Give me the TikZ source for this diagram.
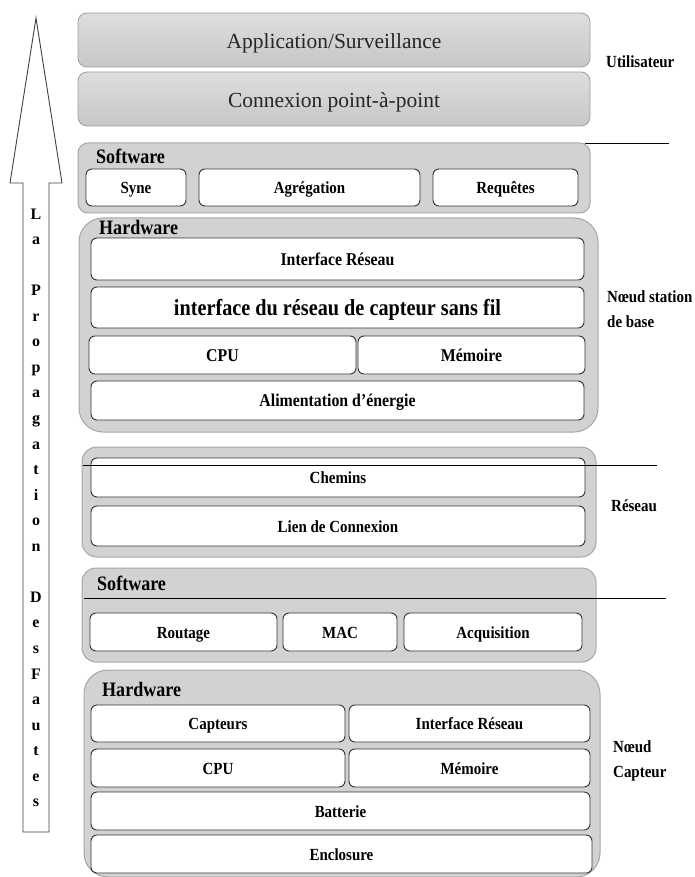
\documentclass[tikz,border=0pt]{standalone}
\usepackage{fontspec}
\setmainfont{Liberation Serif}
\newfontfamily\cbf{Liberation Serif}[FakeStretch=0.88]
\begin{document}
\begin{tikzpicture}[x=1pt,y=-1pt,
  top/.style={draw=gray!75, top color=gray!26, bottom color=gray!44, rounded corners=9pt, line width=0.8pt, font=\fontsize{21.5}{24}\selectfont, text=black!85, inner sep=0pt, text height=21pt, text depth=4pt},
  grp/.style={draw=gray!70, fill=gray!35, line width=1pt, inner sep=0pt},
  box/.style={draw=black!80, fill=white, rounded corners=6pt, line width=0.9pt, font=\fontsize{17}{20}\selectfont\cbf\bfseries, inner sep=0pt, text height=15pt, text depth=3pt},
  bigbox/.style={box, font=\fontsize{18}{20}\selectfont\cbf\bfseries},
  grptitle/.style={anchor=west, font=\fontsize{20.5}{22}\selectfont\cbf\bfseries, inner sep=0pt},
  side/.style={anchor=west, align=left, font=\fontsize{17}{25}\selectfont\cbf\bfseries, inner sep=0pt},
  sepline/.style={draw=black, line width=0.8pt},
  letter/.style={anchor=base, font=\fontsize{16}{18}\selectfont\bfseries, inner sep=0pt}
]
\useasboundingbox (0,0) rectangle (694,877);

% big arrow
\draw[line width=0.9pt, draw=black!75, fill=white]
  (36,18) -- (62,183) -- (49,183) -- (49,832) -- (23,832) -- (23,183) -- (10,183) -- cycle;
\foreach \c/\i in {L/0,a/1,P/3,r/4,o/5,p/6,a/7,g/8,a/9,t/10,i/11,o/12,n/13,D/15,e/16,s/17,F/18,a/19,u/20,t/21,e/22,s/23}
  \node[letter] (let\i) at (36,{219+25.56*\i}) {\c};

% top boxes
\node[top, minimum width=512pt, minimum height=54pt] (app) at (334,40) {Application/Surveillance};
\node[top, minimum width=512pt, minimum height=54pt] (conn) at (334,99) {Connexion point-à-point};

% groups
\node[grp, rounded corners=10pt, minimum width=512pt, minimum height=70pt] (sw1) at (334,178) {};
\node[grp, rounded corners=24pt, minimum width=519pt, minimum height=214pt] (hw1) at (338.5,325) {};
\node[grp, rounded corners=15pt, minimum width=514pt, minimum height=110pt] (net) at (339,502) {};
\node[grp, rounded corners=14pt, minimum width=514pt, minimum height=94pt] (sw2) at (339,615) {};
\node[grp, rounded corners=24pt, minimum width=516pt, minimum height=207pt] (hw2) at (342,773.5) {};

% group titles
\node[grptitle] (sw1t) at (96,156) {Software};
\node[grptitle] (hw1t) at (99,227) {Hardware};
\node[grptitle] (sw2t) at (97,583) {Software};
\node[grptitle] (hw2t) at (102,689) {Hardware};

% software (station)
\node[box, minimum width=100pt, minimum height=37pt] (syne) at (136,187.5) {Syne};
\node[box, minimum width=221pt, minimum height=37pt] (agr) at (309.5,187.5) {Agrégation};
\node[box, minimum width=145pt, minimum height=37pt] (req) at (505.5,187.5) {Requêtes};

% hardware (station)
\node[bigbox, minimum width=493pt, minimum height=42pt] (ir1) at (337.5,259) {Interface Réseau};
\node[box, font=\fontsize{23}{26}\selectfont\cbf\bfseries, text height=19pt, text depth=4pt, minimum width=493pt, minimum height=41pt] (wsn) at (337.5,307.5) {interface du réseau de capteur sans fil};
\node[bigbox, minimum width=267pt, minimum height=38pt] (cpu1) at (222.5,355) {CPU};
\node[bigbox, minimum width=227pt, minimum height=38pt] (mem1) at (471.5,355) {Mémoire};
\node[bigbox, minimum width=493pt, minimum height=39pt] (alim) at (337.5,400.5) {Alimentation d’énergie};

% network
\node[box, minimum width=494pt, minimum height=39pt] (chem) at (338,477.5) {Chemins};
\node[box, minimum width=494pt, minimum height=40pt] (lien) at (338,526) {Lien de Connexion};

% software (node)
\node[box, minimum width=187pt, minimum height=38pt] (rout) at (183.5,632) {Routage};
\node[box, minimum width=114pt, minimum height=38pt] (mac) at (340,632) {MAC};
\node[box, minimum width=178pt, minimum height=38pt] (acq) at (493,632) {Acquisition};

% hardware (node)
\node[box, minimum width=254pt, minimum height=37pt] (capt) at (218,723.5) {Capteurs};
\node[box, minimum width=241pt, minimum height=37pt] (ir2) at (469.5,723.5) {Interface Réseau};
\node[box, minimum width=254pt, minimum height=38pt] (cpu2) at (218,768) {CPU};
\node[box, minimum width=241pt, minimum height=38pt] (mem2) at (469.5,768) {Mémoire};
\node[box, minimum width=499pt, minimum height=38pt] (batt) at (340.5,811) {Batterie};
\node[box, minimum width=501pt, minimum height=38pt] (encl) at (341.5,854) {Enclosure};

% separator lines
\coordinate (s1a) at (585,143); \coordinate (s1b) at (669,143);
\coordinate (s2a) at (83,465);  \coordinate (s2b) at (657,465);
\coordinate (s3a) at (84,598);  \coordinate (s3b) at (666,598);
\draw[sepline] (s1a) -- (s1b);
\draw[sepline] (s2a) -- (s2b);
\draw[sepline] (s3a) -- (s3b);

% side labels
\node[side] (util) at (606,62) {Utilisateur};
\node[side] (nsb) at (607,309.5) {Nœud station\\de base};
\node[side] (res) at (611,506) {Réseau};
\node[side] (ncap) at (613,760.5) {Nœud\\Capteur};
\end{tikzpicture}
\end{document}
